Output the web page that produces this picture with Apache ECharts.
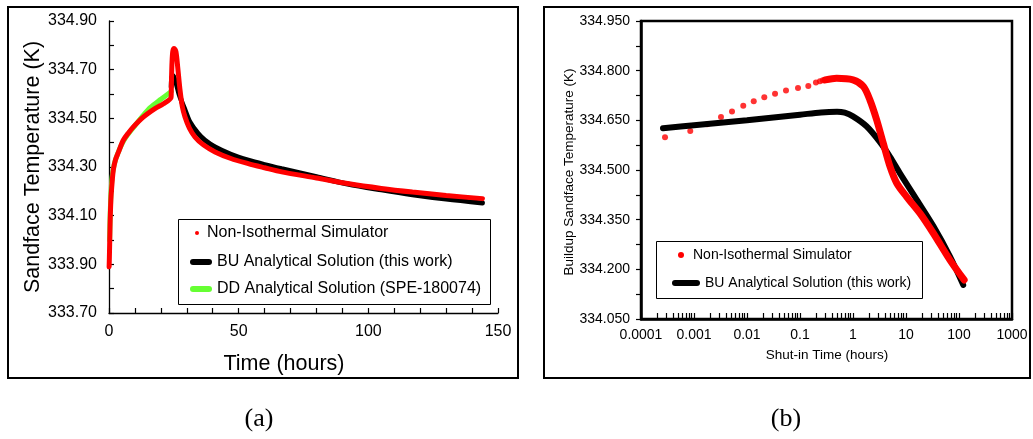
<!DOCTYPE html>
<html><head><meta charset="utf-8">
<script src="https://cdn.jsdelivr.net/npm/echarts@6/dist/echarts.min.js"></script>
<style>html,body{margin:0;padding:0;background:#fff}#c{width:1033px;height:439px}</style>
</head><body><div id="c"></div>
<script>
// ---------- (a) Sandface temperature vs time ----------
const aRedT = [0.05, 0.15, 0.25, 0.35, 0.45, 0.6, 0.8, 1.0, 1.3, 1.7, 2.5, 3.6, 5.5, 7.5, 9.4, 13.2, 17.7, 21, 23.9, 24.0, 24.1, 24.3, 24.6, 25.1, 25.8, 26.5, 27.4, 28.3, 29.3, 31, 33.2, 36.5, 40.9, 47, 53.7, 60, 66.6, 80, 92, 105, 117, 130, 144];
const aRedK = [333.89, 333.93, 333.98, 334.03, 334.08, 334.13, 334.18, 334.21, 334.25, 334.29, 334.33, 334.36, 334.41, 334.44, 334.465, 334.505, 334.54, 334.56, 334.585, 334.6, 334.66, 334.73, 334.775, 334.787, 334.775, 334.71, 334.615, 334.547, 334.506, 334.46, 334.423, 334.39, 334.362, 334.335, 334.314, 334.297, 334.28, 334.255, 334.232, 334.212, 334.197, 334.183, 334.17];
const aBlackT = [24.0, 24.1, 24.3, 24.6, 25.2, 26, 27, 28, 29.3, 31.2, 34.4, 37, 40.9, 47, 53.7, 60, 66.6, 80, 92, 105, 117, 130, 144];
const aBlackK = [334.63, 334.655, 334.67, 334.676, 334.665, 334.64, 334.60, 334.57, 334.535, 334.485, 334.437, 334.41, 334.382, 334.352, 334.328, 334.31, 334.293, 334.26, 334.23, 334.206, 334.186, 334.168, 334.152];
const aGreenT = [0.25, 0.35, 0.5, 0.8, 1.2, 2, 3, 5, 7, 10, 13, 16, 20, 24];
const aGreenK = [334.0, 334.06, 334.12, 334.2, 334.26, 334.31, 334.345, 334.395, 334.43, 334.47, 334.51, 334.545, 334.578, 334.61];

// ---------- (b) Buildup sandface temperature vs shut-in time ----------
const bRedDotT = [0.000284, 0.00085, 0.00178, 0.00323, 0.00521, 0.0085, 0.0134, 0.0212, 0.0338, 0.0544, 0.0917, 0.1435, 0.2, 0.238, 0.27];
const bRedDotK = [334.599, 334.618, 334.638, 334.66, 334.677, 334.694, 334.708, 334.72, 334.73, 334.74, 334.748, 334.754, 334.764, 334.768, 334.771];
const bRedDenseT = [0.3, 0.49, 1.0, 1.57, 2.09, 2.8, 3.74, 5.0, 6.7, 10.3, 18.4, 32.8, 67.7, 125];
const bRedDenseK = [334.772, 334.777, 334.772, 334.752, 334.711, 334.651, 334.58, 334.51, 334.46, 334.419, 334.369, 334.309, 334.228, 334.168];
const bBlackT = [0.00026, 0.001, 0.01, 0.1, 0.25, 0.5, 0.7, 1.0, 1.8, 3.2, 5, 7.7, 16, 33, 68, 120];
const bBlackK = [334.626, 334.635, 334.65, 334.667, 334.674, 334.676, 334.673, 334.662, 334.632, 334.585, 334.54, 334.49, 334.41, 334.33, 334.238, 334.153];

const nameSim = 'Non-Isothermal Simulator';
const nameBU = 'BU Analytical Solution (this work)';
const nameDD = 'DD Analytical Solution (SPE-180074)';

const zip = (a, b) => a.map((v, i) => [v, b[i]]);
const FONT = '"Liberation Sans", Arial, sans-serif';
const RED = '#ff0000', GREEN = '#66ff33', BLACK = '#000000';
const CLEAR = 'rgba(0,0,0,0)';

const pillA = 'path://M3,0H19A3,3 0 0 1 19,6H3A3,3 0 0 1 3,0Z';
const pillB = 'path://M3,0H25A3,3 0 0 1 25,6H3A3,3 0 0 1 3,0Z';

function legend(name, icon, color, left, top, w, h, fs) {
  return {
    left: left, top: top, padding: 0, itemWidth: w, itemHeight: h, selectedMode: false,
    textStyle: { fontFamily: FONT, fontSize: fs, color: '#000' },
    data: [{ name: name, icon: icon, itemStyle: { color: color, borderWidth: 0 } }]
  };
}

const TICK = { color: '#000', width: 1.2 };
const HIDDEN = { show: false };

const chart = echarts.init(document.getElementById('c'), null, { renderer: 'canvas' });
chart.setOption({
  backgroundColor: '#ffffff',
  animation: false,
  grid: [
    { left: 109, top: 21, right: 535, bottom: 126 },
    { left: 641, top: 21, right: 21, bottom: 120, show: true, borderColor: '#000', borderWidth: 2.5, backgroundColor: 'transparent' },
    // tick-carrier grid for (a) y ticks: its right edge sits on the (a) y axis, ticks point right into the plot
    { left: 40, top: 21, right: 924, bottom: 126 },
    // tick-carrier grid for (a) x ticks: its top edge sits on the (a) x axis, ticks point up into the plot
    { left: 109, top: 313, right: 535, bottom: 100 }
  ],
  xAxis: [
    { gridIndex: 0, type: 'value', min: 0, max: 150, interval: 50,
      axisLine: { show: true, onZero: false, lineStyle: { color: '#000', width: 1.3 } },
      axisTick: { show: false },
      axisLabel: { color: '#000', fontFamily: FONT, fontSize: 16, margin: 11 },
      splitLine: { show: false } },
    { gridIndex: 1, type: 'log', logBase: 10, min: 0.0001, max: 1000,
      axisLine: { show: true, onZero: false, lineStyle: { color: '#000', width: 2.5 } },
      axisTick: { show: false },
      axisLabel: { color: '#000', fontFamily: FONT, fontSize: 14, margin: 9,
        formatter: v => String(Number(Number(v).toPrecision(6))) },
      splitLine: { show: false }, minorSplitLine: { show: false } },
    { gridIndex: 1, type: 'log', logBase: 10, min: 0.0001, max: 1000, position: 'bottom', offset: -6, silent: true,
      axisLine: { show: false, onZero: false },
      axisLabel: { show: false }, splitLine: { show: false },
      axisTick: { show: true, inside: false, length: 6, lineStyle: TICK },
      minorTick: { show: true, splitNumber: 9, length: 6, lineStyle: TICK } },
    { gridIndex: 2, type: 'value', min: 0, max: 1, show: false },
    { gridIndex: 3, type: 'value', min: 0, max: 150, interval: 50, position: 'top', silent: true,
      axisLine: { show: true, onZero: false, lineStyle: { color: CLEAR, width: 1 } },
      axisTick: { show: true, inside: false, length: 5, lineStyle: TICK },
      minorTick: { show: true, splitNumber: 5, length: 5, lineStyle: TICK },
      axisLabel: { show: true, color: CLEAR, fontSize: 10 },
      splitLine: { show: false } }
  ],
  yAxis: [
    { gridIndex: 0, type: 'value', min: 333.7, max: 334.9, interval: 0.1,
      axisLine: { show: true, onZero: false, lineStyle: { color: '#000', width: 1.3 } },
      axisTick: { show: false },
      axisLabel: { color: '#000', fontFamily: FONT, fontSize: 16, margin: 12,
        formatter: v => (Math.round(v * 10) % 2 === 1 ? Number(v).toFixed(2) : '') },
      splitLine: { show: false } },
    { gridIndex: 1, type: 'value', min: 334.05, max: 334.95, interval: 0.15,
      axisLine: { show: true, onZero: false, lineStyle: { color: '#000', width: 2.5 } },
      axisTick: { show: true, inside: false, length: 5, lineStyle: TICK },
      minorTick: { show: true, splitNumber: 2, length: 5, lineStyle: TICK },
      axisLabel: { color: '#000', fontFamily: FONT, fontSize: 14, margin: 11,
        formatter: v => Number(v).toFixed(3) },
      splitLine: { show: false } },
    { gridIndex: 2, type: 'value', min: 333.7, max: 334.9, interval: 0.1, position: 'right', silent: true,
      axisLine: { show: true, onZero: false, lineStyle: { color: CLEAR, width: 1 } },
      axisTick: { show: true, inside: false, length: 5, lineStyle: TICK },
      axisLabel: { show: true, color: CLEAR, fontSize: 10 },
      splitLine: { show: false } },
    { gridIndex: 3, type: 'value', min: 0, max: 1, show: false }
  ],
  legend: [
    legend(nameSim, 'circle', RED, 195, 225, 10, 4, 16),
    legend(nameBU, pillA, BLACK, 190, 254, 22, 6, 16),
    legend(nameDD, pillA, GREEN, 190, 281, 22, 6, 16),
    legend(nameSim, 'circle', RED, 678, 248, 14, 6, 14),
    legend(nameBU, pillB, BLACK, 672, 276, 28, 6, 14)
  ],
  series: [
    { name: nameDD, type: 'line', xAxisIndex: 0, yAxisIndex: 0, data: zip(aGreenT, aGreenK),
      smooth: 0.3, showSymbol: false, symbol: 'none', lineStyle: { color: GREEN, width: 5, cap: 'round' }, itemStyle: { color: GREEN } },
    { name: nameBU, type: 'line', xAxisIndex: 0, yAxisIndex: 0, data: zip(aBlackT, aBlackK),
      smooth: 0.3, showSymbol: false, symbol: 'none', lineStyle: { color: BLACK, width: 5, cap: 'round' }, itemStyle: { color: BLACK } },
    { name: nameSim, type: 'line', xAxisIndex: 0, yAxisIndex: 0, data: zip(aRedT, aRedK),
      smooth: 0.3, showSymbol: false, symbol: 'none', lineStyle: { color: RED, width: 5, cap: 'round' }, itemStyle: { color: RED } },
    { name: nameBU, type: 'line', xAxisIndex: 1, yAxisIndex: 1, data: zip(bBlackT, bBlackK),
      smooth: 0.3, showSymbol: false, symbol: 'none', lineStyle: { color: BLACK, width: 6, cap: 'round' }, itemStyle: { color: BLACK } },
    { name: nameSim, type: 'scatter', xAxisIndex: 1, yAxisIndex: 1, data: zip(bRedDotT, bRedDotK),
      symbol: 'circle', symbolSize: 6, itemStyle: { color: RED } },
    { name: nameSim, type: 'line', xAxisIndex: 1, yAxisIndex: 1, data: zip(bRedDenseT, bRedDenseK),
      smooth: 0.3, showSymbol: false, symbol: 'none', lineStyle: { color: RED, width: 7, cap: 'round' }, itemStyle: { color: RED } }
  ],
  graphic: [
    { type: 'rect', shape: { x: 8, y: 7, width: 510, height: 371 }, style: { fill: 'none', stroke: '#000', lineWidth: 2 }, silent: true },
    { type: 'rect', shape: { x: 544, y: 7, width: 486, height: 371 }, style: { fill: 'none', stroke: '#000', lineWidth: 2 }, silent: true },
    { type: 'rect', shape: { x: 178.5, y: 219.5, width: 312, height: 85 }, style: { fill: 'none', stroke: '#000', lineWidth: 1 }, silent: true, z: 10 },
    { type: 'rect', shape: { x: 656.5, y: 241.5, width: 266, height: 57 }, style: { fill: 'none', stroke: '#000', lineWidth: 1 }, silent: true, z: 10 },
    { type: 'text', x: 33, y: 167, rotation: Math.PI / 2, silent: true,
      style: { text: 'Sandface Temperature (K)', font: '21.5px "Liberation Sans"', fill: '#000', textAlign: 'center', align: 'center', textVerticalAlign: 'middle', verticalAlign: 'middle' } },
    { type: 'text', x: 284, y: 364, silent: true,
      style: { text: 'Time (hours)', font: '21.5px "Liberation Sans"', fill: '#000', textAlign: 'center', align: 'center', textVerticalAlign: 'middle', verticalAlign: 'middle' } },
    { type: 'text', x: 569, y: 172, rotation: Math.PI / 2, silent: true,
      style: { text: 'Buildup Sandface Temperature (K)', font: '13.5px "Liberation Sans"', fill: '#000', textAlign: 'center', align: 'center', textVerticalAlign: 'middle', verticalAlign: 'middle' } },
    { type: 'text', x: 827, y: 355, silent: true,
      style: { text: 'Shut-in Time (hours)', font: '13.5px "Liberation Sans"', fill: '#000', textAlign: 'center', align: 'center', textVerticalAlign: 'middle', verticalAlign: 'middle' } },
    { type: 'text', x: 259, y: 419, silent: true,
      style: { text: '(a)', font: '26px "Liberation Serif"', fill: '#000', textAlign: 'center', align: 'center', textVerticalAlign: 'middle', verticalAlign: 'middle' } },
    { type: 'text', x: 786, y: 419, silent: true,
      style: { text: '(b)', font: '26px "Liberation Serif"', fill: '#000', textAlign: 'center', align: 'center', textVerticalAlign: 'middle', verticalAlign: 'middle' } }
  ]
});
</script>
</body></html>
